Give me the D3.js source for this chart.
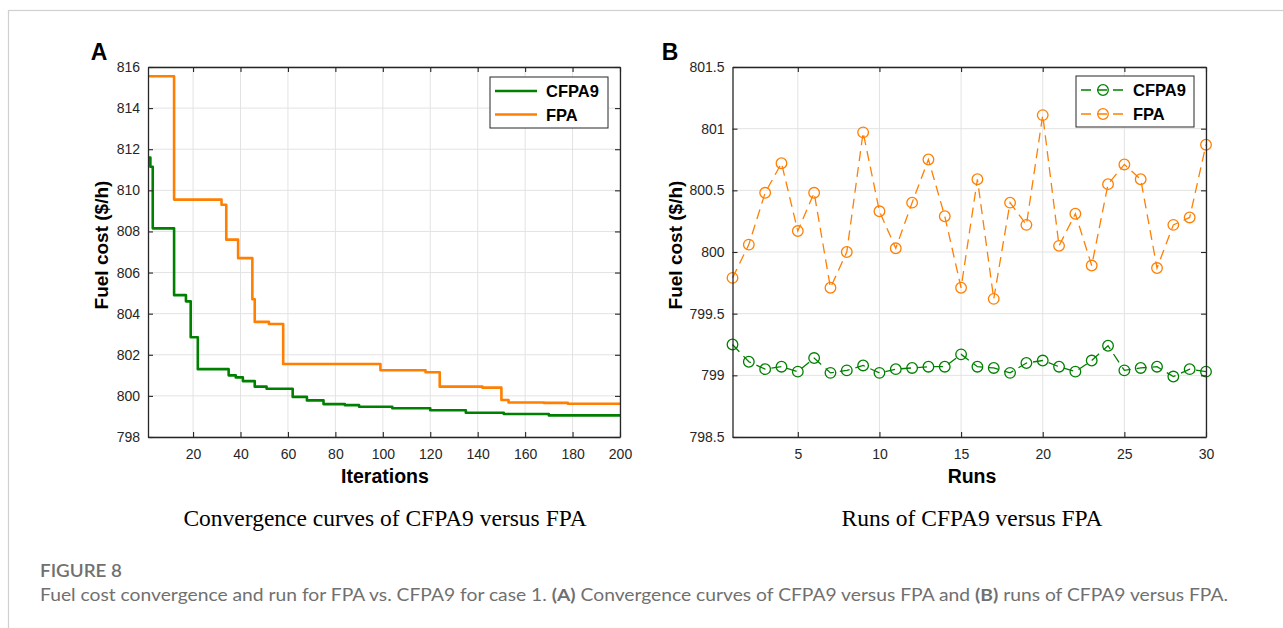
<!DOCTYPE html>
<html>
<head>
<meta charset="utf-8">
<script src="https://cdn.jsdelivr.net/npm/d3@7"></script>
<style>
  body { margin: 0; background: #fff; }
  svg { display: block; }
</style>
</head>
<body>
<svg id="fig" width="1283" height="628"></svg>
<script>
// data: panel A, convergence curves (iteration where value changes, value)
const cfpaIter = [1, 2, 3, 12, 17, 19, 22, 35, 38, 41, 46, 51, 62, 68, 75, 84, 90, 104, 120, 135, 151, 170, 200];
const cfpaCost = [811.6, 811.15, 808.15, 804.9, 804.6, 802.85, 801.3, 801.0, 800.9, 800.72, 800.45, 800.35, 799.95, 799.78, 799.6, 799.55, 799.47, 799.4, 799.3, 799.18, 799.12, 799.05, 799.0];
const fpaIter = [1, 12, 32, 34, 39, 45, 46, 52, 58, 99, 118, 124, 142, 150, 153, 168, 178, 200];
const fpaCost = [815.55, 809.55, 809.3, 807.6, 806.7, 804.7, 803.6, 803.5, 801.55, 801.25, 801.15, 800.45, 800.4, 799.8, 799.68, 799.66, 799.62, 799.62];

// data: panel B, 30 runs
const runs = d3.range(1, 31);
const cfpaRuns = [799.25, 799.11, 799.05, 799.07, 799.03, 799.14, 799.02, 799.04, 799.08, 799.02,
                  799.05, 799.06, 799.07, 799.07, 799.17, 799.07, 799.06, 799.02, 799.1, 799.12,
                  799.07, 799.03, 799.12, 799.24, 799.04, 799.06, 799.07, 798.99, 799.05, 799.03];
const fpaRuns = [799.79, 800.06, 800.48, 800.72, 800.17, 800.48, 799.71, 800.0, 800.97, 800.33,
                 800.03, 800.4, 800.75, 800.29, 799.71, 800.59, 799.62, 800.4, 800.22, 801.11,
                 800.05, 800.31, 799.89, 800.55, 800.71, 800.59, 799.87, 800.22, 800.28, 800.87];

const seriesNames = ["CFPA9", "FPA"];
const GREEN = "#008000";
const ORANGE = "#ff7f00";
const AXIS = "#262626";
const GRID = "#e3e3e3";
const SANS = "'Liberation Sans', Arial, sans-serif";
const SERIF = "'Liberation Serif', 'Times New Roman', serif";

const svg = d3.select("#fig");

// outer frame
svg.append("rect")
    .attr("x", 8.5).attr("y", 10.5)
    .attr("width", 1400).attr("height", 800)
    .attr("fill", "none").attr("stroke", "#d0d0d0").attr("stroke-width", 1.2);

const PLOT_TOP = 67, PLOT_BOTTOM = 437;

function drawGrid(g, x, y, xTicks, yTicks, id) {
    const [x0, x1] = x.range();
    const [y0, y1] = y.range();
    g.append("g").selectAll("line").data(xTicks).join("line")
        .attr("x1", d => x(d)).attr("x2", d => x(d))
        .attr("y1", y1).attr("y2", y0)
        .attr("stroke", GRID).attr("stroke-width", 1);
    g.append("g").selectAll("line").data(yTicks).join("line")
        .attr("x1", x0).attr("x2", x1)
        .attr("y1", d => y(d)).attr("y2", d => y(d))
        .attr("stroke", GRID).attr("stroke-width", 1);

    g.append("clipPath").attr("id", id).append("rect")
        .attr("x", x0).attr("y", y1).attr("width", x1 - x0).attr("height", y0 - y1);
}

function drawAxes(g, x, y, xTicks, yTicks, yFmt) {
    const [x0, x1] = x.range();
    const [y0, y1] = y.range();
    g.append("g").attr("transform", `translate(0,${y0})`)
        .call(d3.axisBottom(x).tickValues(xTicks).tickSize(-5).tickPadding(12).tickSizeOuter(0));
    g.append("g").attr("transform", `translate(${x0},0)`)
        .call(d3.axisLeft(y).tickValues(yTicks).tickFormat(yFmt).tickSize(-5).tickPadding(8).tickSizeOuter(0));
    g.append("g").attr("transform", `translate(0,${y1})`)
        .call(d3.axisTop(x).tickValues(xTicks).tickSize(-5).tickFormat("").tickSizeOuter(0));
    g.append("g").attr("transform", `translate(${x1},0)`)
        .call(d3.axisRight(y).tickValues(yTicks).tickSize(-5).tickFormat("").tickSizeOuter(0));
    g.selectAll(".domain").attr("stroke", AXIS).attr("stroke-width", 1.3);
    g.selectAll(".tick line").attr("stroke", AXIS).attr("stroke-width", 1.1);
    g.selectAll(".tick text")
        .attr("font-family", SANS).attr("font-size", 14).attr("fill", AXIS);
}

function label(text, x, y, opts) {
    const t = svg.append("text").attr("x", x).attr("y", y).text(text)
        .attr("font-family", opts.family || SANS)
        .attr("font-size", opts.size)
        .attr("font-weight", opts.weight || "normal")
        .attr("fill", opts.fill || "#000")
        .attr("text-anchor", opts.anchor || "middle");
    if (opts.rotate) t.attr("transform", `rotate(-90 ${x} ${y})`);
    return t;
}

// ---------- panel A ----------
const xA = d3.scaleLinear().domain([1, 200]).range([148, 620]);
const yA = d3.scaleLinear().domain([798, 816]).range([PLOT_BOTTOM, PLOT_TOP]);
const gA = svg.append("g");
const xTicksA = d3.range(20, 201, 20);
const yTicksA = d3.range(798, 817, 2);
drawGrid(gA, xA, yA, xTicksA, yTicksA, "clipA");

const stepLine = d3.line().curve(d3.curveStepAfter)
    .x(d => xA(d[0])).y(d => yA(d[1]));
const convSeries = [
    { pts: d3.zip(fpaIter, fpaCost), color: ORANGE },
    { pts: d3.zip(cfpaIter, cfpaCost), color: GREEN },
];
gA.append("g").attr("clip-path", "url(#clipA)")
    .selectAll("path").data(convSeries).join("path")
    .attr("d", d => stepLine(d.pts))
    .attr("fill", "none").attr("stroke", d => d.color)
    .attr("stroke-width", 2.6).attr("stroke-linejoin", "round");
drawAxes(gA, xA, yA, xTicksA, yTicksA, d3.format("d"));

// legend A
const legA = gA.append("g").attr("transform", "translate(490,77)");
legA.append("rect").attr("width", 118).attr("height", 51)
    .attr("fill", "#fff").attr("stroke", AXIS).attr("stroke-width", 1);
[GREEN, ORANGE].forEach((c, i) => {
    legA.append("line").attr("x1", 5).attr("x2", 47)
        .attr("y1", 14 + i * 23.5).attr("y2", 14 + i * 23.5)
        .attr("stroke", c).attr("stroke-width", 2.6);
    legA.append("text").attr("x", 56).attr("y", 20 + i * 23.5)
        .attr("font-family", SANS)
        .attr("font-size", 16.5).attr("font-weight", "bold").text(seriesNames[i]);
});

label("A", 99, 60, { size: 23, weight: "bold" });
label("Fuel cost ($/h)", 108, 245, { size: 19, weight: "bold", rotate: true });
label("Iterations", 385, 483, { size: 19.5, weight: "bold" });
label("Convergence curves of CFPA9 versus FPA", 385, 526, { size: 23.5, family: SERIF });

// ---------- panel B ----------
const xB = d3.scaleLinear().domain([1, 30]).range([732.5, 1206]);
const yB = d3.scaleLinear().domain([798.5, 801.5]).range([PLOT_BOTTOM, PLOT_TOP]);
const gB = svg.append("g");
const xTicksB = d3.range(5, 31, 5);
const yTicksB = d3.range(798.5, 801.51, 0.5);
drawGrid(gB, xB, yB, xTicksB, yTicksB, "clipB");

const runSeries = [
    { vals: d3.zip(runs, cfpaRuns), color: GREEN },
    { vals: d3.zip(runs, fpaRuns), color: ORANGE },
];
const runLine = d3.line().x(d => xB(d[0])).y(d => yB(d[1]));
const sg = gB.selectAll("g.series").data(runSeries).join("g").attr("class", "series");
sg.append("path")
    .attr("d", d => runLine(d.vals))
    .attr("fill", "none").attr("stroke", d => d.color)
    .attr("stroke-width", 1.3).attr("stroke-dasharray", "10,6");
sg.each(function (d) {
    d3.select(this).selectAll("circle").data(d.vals).join("circle")
        .attr("cx", p => xB(p[0])).attr("cy", p => yB(p[1])).attr("r", 5.3)
        .attr("fill", "none").attr("stroke", d.color).attr("stroke-width", 1.3);
});
drawAxes(gB, xB, yB, xTicksB, yTicksB, d3.format(""));

// legend B
const legB = gB.append("g").attr("transform", "translate(1076,76)");
legB.append("rect").attr("width", 118).attr("height", 51)
    .attr("fill", "#fff").attr("stroke", AXIS).attr("stroke-width", 1);
[GREEN, ORANGE].forEach((c, i) => {
    const yy = 14 + i * 24;
    legB.append("line").attr("x1", 5).attr("x2", 49).attr("y1", yy).attr("y2", yy)
        .attr("stroke", c).attr("stroke-width", 1.3).attr("stroke-dasharray", "10,6");
    legB.append("circle").attr("cx", 27).attr("cy", yy).attr("r", 5.3)
        .attr("fill", "none").attr("stroke", c).attr("stroke-width", 1.3);
    legB.append("text").attr("x", 57).attr("y", yy + 6)
        .attr("font-family", SANS)
        .attr("font-size", 16.5).attr("font-weight", "bold").text(seriesNames[i]);
});

label("B", 670, 60, { size: 23, weight: "bold" });
label("Fuel cost ($/h)", 682, 245, { size: 19, weight: "bold", rotate: true });
label("Runs", 972, 483, { size: 19.5, weight: "bold" });
label("Runs of CFPA9 versus FPA", 972, 526, { size: 23.5, family: SERIF });

// ---------- caption ----------
label("FIGURE 8", 40, 577, { size: 17, weight: "600", fill: "#707070", anchor: "start", family: "Lato, 'Open Sans', sans-serif" })
    .attr("textLength", 82).attr("lengthAdjust", "spacingAndGlyphs");
const cap = svg.append("text").attr("x", 40).attr("y", 601)
    .attr("font-family", "Lato, 'Open Sans', sans-serif").attr("font-size", 17)
    .attr("fill", "#707070")
    .attr("textLength", 1188).attr("lengthAdjust", "spacingAndGlyphs");
cap.append("tspan").text("Fuel cost convergence and run for FPA vs. CFPA9 for case 1. ");
cap.append("tspan").attr("font-weight", "bold").text("(A)");
cap.append("tspan").text(" Convergence curves of CFPA9 versus FPA and ");
cap.append("tspan").attr("font-weight", "bold").text("(B)");
cap.append("tspan").text(" runs of CFPA9 versus FPA.");
</script>
</body>
</html>
